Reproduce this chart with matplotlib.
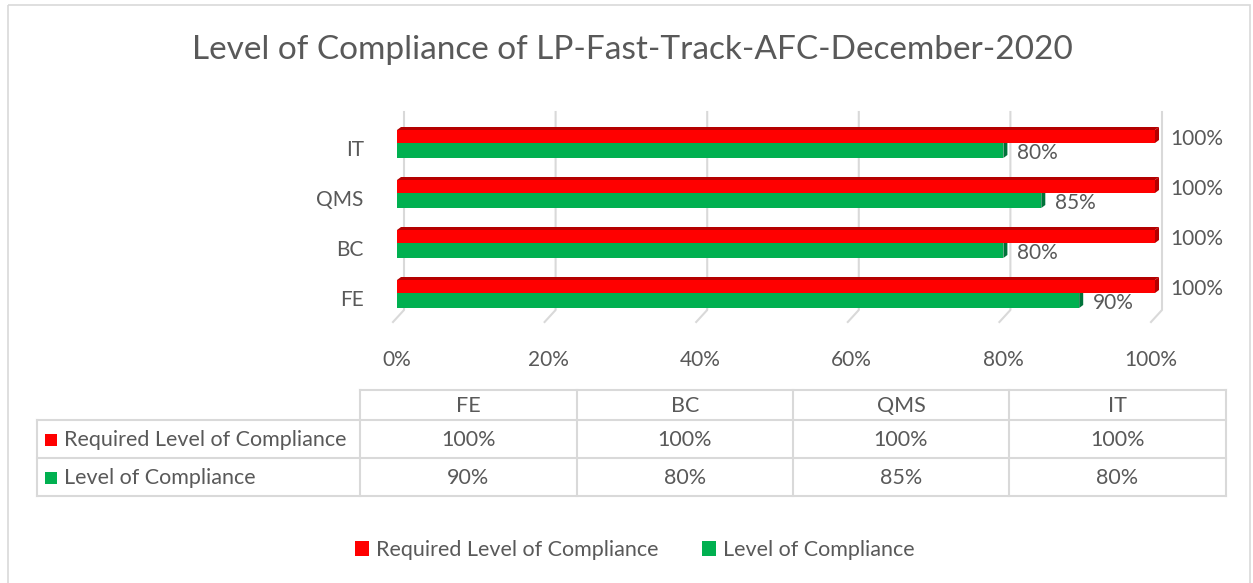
import matplotlib
matplotlib.use("Agg")
import matplotlib.pyplot as plt
from matplotlib.transforms import ScaledTranslation
from matplotlib.patches import Polygon, Rectangle, Patch

# ---------------- data ----------------
categories = ["FE", "BC", "QMS", "IT"]
required = [1.00, 1.00, 1.00, 1.00]
compliance = [0.90, 0.80, 0.85, 0.80]
series_names = ["Required Level of Compliance", "Level of Compliance"]
xticks = [0.0, 0.2, 0.4, 0.6, 0.8, 1.0]
xtick_labels = ["0%", "20%", "40%", "60%", "80%", "100%"]
title = "Level of Compliance of LP-Fast-Track-AFC-December-2020"

# ---------------- style ----------------
FONT = "Lato"
TXT = "#595959"
RED, RED_D = "#FF0000", "#B40000"
GRN, GRN_D = "#00B050", "#00733A"
GRID = "#D9D9D9"
W, H, DPI = 1253, 583, 100
FS = 15
FS_T = 15.5

plt.rcParams["font.family"] = [FONT, "DejaVu Sans"]
fig = plt.figure(figsize=(W / DPI, H / DPI), dpi=DPI)

def px_rect(x0, y0, x1, y1):
    return [x0 / W, 1 - y1 / H, (x1 - x0) / W, (y1 - y0) / H]

# overlay axes in pixel coordinates (for frame, table, title)
ov = fig.add_axes([0, 0, 1, 1], zorder=0)
ov.set_xlim(0, W)
ov.set_ylim(H, 0)
ov.axis("off")
ov.add_patch(Rectangle((8, 5), 1242, 590, fill=False, ec=GRID, lw=1.2))
ov.text(632, 50, title, ha="center", va="center", fontsize=24, color=TXT)

# bar axes
ax = fig.add_axes(px_rect(397, 118, 1155, 318), zorder=1)
ax.patch.set_alpha(0)
ax.set_xlim(0, 1)
ax.set_ylim(-0.5, 3.5)
for s in ax.spines.values():
    s.set_visible(False)

upx = 1 / 758.0   # data units per pixel (x)
upy = 1 / 50.0    # data units per pixel (y)
dx, dy = 4 * upx, 3 * upy
red_h, grn_h = 13 * upy, 15 * upy

# gridlines with 3D back-wall offset
for xv in xticks:
    ax.plot([xv + 7 * upx, xv + 7 * upx, xv - 4 * upx],
            [3.62, -0.34, -0.58], color=GRID, lw=1.5, clip_on=False, zorder=0)

def poly(pts, fc, z):
    ax.add_patch(Polygon(pts, closed=True, fc=fc, ec="none", zorder=z, clip_on=False))

for i, (r, g) in enumerate(zip(required, compliance)):
    c = i
    # green bar
    poly([(0, c - grn_h), (g, c - grn_h), (g, c), (0, c)], GRN, 2)
    poly([(g, c - grn_h), (g + dx, c - grn_h + dy), (g + dx, c + dy), (g, c)], GRN_D, 2)
    # red bar
    poly([(0, c), (r, c), (r, c + red_h), (0, c + red_h)], RED, 3)
    poly([(0, c + red_h), (r, c + red_h), (r + dx, c + red_h + dy), (dx, c + red_h + dy)], RED_D, 3)
    poly([(r, c), (r + dx, c + dy), (r + dx, c + red_h + dy), (r, c + red_h)], RED_D, 3)
    ax.annotate(f"{r:.0%}", (r, c), xytext=(15, 4), textcoords="offset pixels",
                ha="left", va="center", fontsize=FS, color=TXT, annotation_clip=False)
    ax.annotate(f"{g:.0%}", (g, c), xytext=(14, -10), textcoords="offset pixels",
                ha="left", va="center", fontsize=FS, color=TXT, annotation_clip=False)

ax.set_xticks(xticks)
ax.set_xticklabels(xtick_labels, fontsize=FS, color=TXT)
ax.set_yticks(range(len(categories)))
ax.set_yticklabels(categories, fontsize=FS, color=TXT)
ax.tick_params(length=0)
ax.tick_params(axis="x", pad=23)
ax.tick_params(axis="y", pad=24)
off = ScaledTranslation(0, -5 / DPI, fig.dpi_scale_trans)
for lab in ax.get_yticklabels():
    lab.set_transform(lab.get_transform() + off)
xoff = ScaledTranslation(-4 / DPI, 0, fig.dpi_scale_trans)
xl = ax.get_xticklabels()
xl[-1].set_transform(xl[-1].get_transform() + xoff)

# ---------------- data table ----------------
col_x = [37, 360, 577, 793, 1009, 1226]
row_y = [390, 420, 458, 496]
lc = "#D9D9D9"
ov.plot([col_x[1], col_x[-1]], [row_y[0]] * 2, color=lc, lw=1.5)
for y in row_y[1:]:
    ov.plot([col_x[0], col_x[-1]], [y] * 2, color=lc, lw=1.5)
ov.plot([col_x[0]] * 2, [row_y[1], row_y[3]], color=lc, lw=1.5)
for x in col_x[1:]:
    ov.plot([x] * 2, [row_y[0], row_y[3]], color=lc, lw=1.5)

def mid(a, b):
    return (a + b) / 2 + 1

for j, cat in enumerate(categories):
    xc = (col_x[j + 1] + col_x[j + 2]) / 2
    ov.text(xc, mid(row_y[0], row_y[1]), cat, ha="center", va="center", fontsize=FS_T, color=TXT)
    ov.text(xc, mid(row_y[1], row_y[2]), f"{required[j]:.0%}", ha="center", va="center", fontsize=FS_T, color=TXT)
    ov.text(xc, mid(row_y[2], row_y[3]), f"{compliance[j]:.0%}", ha="center", va="center", fontsize=FS_T, color=TXT)

for k, (name, colr) in enumerate(zip(series_names, [RED, GRN])):
    yc = mid(row_y[k + 1], row_y[k + 2])
    ov.add_patch(Rectangle((45, yc - 6), 12, 12, fc=colr, ec="none"))
    ov.text(64, yc, name, ha="left", va="center", fontsize=FS_T, color=TXT)

# ---------------- legend ----------------
handles = [Patch(fc=RED, ec="none"), Patch(fc=GRN, ec="none")]
leg = fig.legend(handles, series_names, loc="center", bbox_to_anchor=(635 / W, 1 - 550 / H),
                 ncol=2, frameon=False, fontsize=FS_T, handlelength=0.65, handleheight=0.65,
                 handletextpad=0.35, columnspacing=2.0, labelcolor=TXT)

fig.savefig("out.png", dpi=DPI)
